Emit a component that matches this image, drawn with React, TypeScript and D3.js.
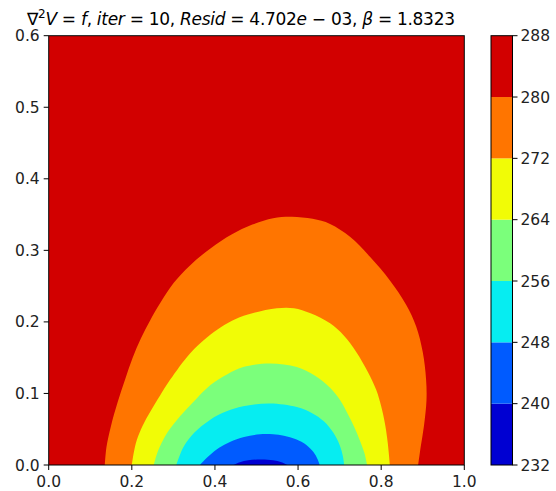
import React from "react";
import * as d3 from "d3";

// Contour levels (colorbar boundaries)
const levels = [232, 240, 248, 256, 264, 272, 280, 288];
// Band fill colours (jet colormap at band midpoints), lowest band first
const bandColors = ["#0000d2", "#005bff", "#06edf1", "#7bff7b", "#f1fc06", "#ff7500", "#d20000"];

// Contour boundaries: [x, y] pairs (lower edge of each band)
const contour280: [number, number][] = [
  [0.135, 0], [0.139, 0.025], [0.15, 0.055], [0.166, 0.088], [0.184, 0.12],
  [0.202, 0.15], [0.222, 0.177], [0.244, 0.202], [0.268, 0.226], [0.3, 0.254],
  [0.34, 0.279], [0.39, 0.303], [0.44, 0.322], [0.49, 0.336], [0.54, 0.345],
  [0.585, 0.347], [0.635, 0.344], [0.677, 0.337], [0.725, 0.319], [0.773, 0.291],
  [0.821, 0.258], [0.86, 0.224], [0.884, 0.194], [0.9, 0.158], [0.908, 0.12],
  [0.909, 0.09], [0.903, 0.055], [0.895, 0.025], [0.889, 0]
];
const contour272: [number, number][] = [
  [0.2, 0], [0.205, 0.018], [0.212, 0.035], [0.226, 0.055], [0.244, 0.074],
  [0.268, 0.097], [0.292, 0.119], [0.34, 0.156], [0.38, 0.178], [0.415, 0.193],
  [0.45, 0.204], [0.49, 0.212], [0.549, 0.219], [0.59, 0.219], [0.63, 0.212],
  [0.677, 0.198], [0.71, 0.181], [0.74, 0.158], [0.768, 0.13], [0.788, 0.105],
  [0.8, 0.082], [0.81, 0.055], [0.816, 0.03], [0.821, 0]
];
const contour264: [number, number][] = [
  [0.253, 0], [0.262, 0.018], [0.284, 0.044], [0.31, 0.064], [0.34, 0.083],
  [0.39, 0.112], [0.43, 0.127], [0.468, 0.137], [0.532, 0.142], [0.597, 0.137],
  [0.64, 0.125], [0.677, 0.108], [0.701, 0.091], [0.72, 0.071], [0.736, 0.052],
  [0.749, 0.034], [0.76, 0.016], [0.766, 0]
];
const contour256: [number, number][] = [
  [0.307, 0], [0.315, 0.013], [0.326, 0.027], [0.35, 0.045], [0.388, 0.063],
  [0.428, 0.075], [0.468, 0.082], [0.532, 0.086], [0.597, 0.081], [0.635, 0.072],
  [0.662, 0.061], [0.685, 0.045], [0.7, 0.028], [0.708, 0.012], [0.711, 0]
];
const contour248: [number, number][] = [
  [0.364, 0], [0.375, 0.007], [0.388, 0.014], [0.41, 0.024], [0.436, 0.032],
  [0.47, 0.039], [0.508, 0.043], [0.54, 0.043], [0.566, 0.041], [0.595, 0.036],
  [0.62, 0.028], [0.637, 0.018], [0.647, 0.008], [0.652, 0]
];
const contour240: [number, number][] = [
  [0.444, 0], [0.46, 0.004], [0.48, 0.0065], [0.51, 0.0078], [0.54, 0.0068],
  [0.56, 0.004], [0.575, 0]
];
// Outer to inner; each region is filled with the band colour below its level
const contours = [contour280, contour272, contour264, contour256, contour248, contour240];

const xTicks = [0.0, 0.2, 0.4, 0.6, 0.8, 1.0];
const yTicks = [0.0, 0.1, 0.2, 0.3, 0.4, 0.5, 0.6];

export default function App() {
  const W = 556, H = 491;
  const px0 = 48.7, px1 = 464.3, py0 = 35.7, py1 = 465;
  const cbx0 = 491, cbx1 = 512.5;
  const x = d3.scaleLinear().domain([0, 1]).range([px0, px1]);
  const y = d3.scaleLinear().domain([0, 0.6]).range([py1, py0]);
  const cy = d3.scaleLinear().domain([232, 288]).range([py1, py0]);
  const line = d3
    .line<[number, number]>()
    .x((d) => x(d[0]))
    .y((d) => y(d[1]))
    .curve(d3.curveCatmullRom.alpha(0.5));
  const font = "DejaVu Sans";
  const tickFs = 15.5;
  const axisColor = "#000";

  return (
    <svg width={W} height={H} style={{ position: "absolute", left: 0, top: 0 }} fontFamily={font}>
      <defs>
        <clipPath id="plotclip">
          <rect x={px0} y={py0} width={px1 - px0} height={py1 - py0} />
        </clipPath>
      </defs>
      <rect x={0} y={0} width={W} height={H} fill="#fff" />
      <g clipPath="url(#plotclip)">
        <rect x={px0} y={py0} width={px1 - px0} height={py1 - py0} fill={bandColors[6]} />
        {contours.map((c, i) => (
          <path key={i} d={(line(c) || "") + "Z"} fill={bandColors[5 - i]} />
        ))}
      </g>
      <rect x={px0} y={py0} width={px1 - px0} height={py1 - py0} fill="none" stroke={axisColor} strokeWidth={1} />
      {/* x axis */}
      {xTicks.map((t) => (
        <g key={"x" + t}>
          <line x1={x(t)} x2={x(t)} y1={py1} y2={py1 + 5} stroke={axisColor} strokeWidth={1} />
          <text x={x(t)} y={py1 + 22} textAnchor="middle" fontSize={tickFs} fill="#222">
            {t.toFixed(1)}
          </text>
        </g>
      ))}
      {/* y axis */}
      {yTicks.map((t) => (
        <g key={"y" + t}>
          <line x1={px0 - 5} x2={px0} y1={y(t)} y2={y(t)} stroke={axisColor} strokeWidth={1} />
          <text x={px0 - 9} y={y(t) + 5.5} textAnchor="end" fontSize={tickFs} fill="#222">
            {t.toFixed(1)}
          </text>
        </g>
      ))}
      {/* colorbar */}
      {bandColors.map((c, i) => (
        <rect key={"cb" + i} x={cbx0} y={cy(levels[i + 1])} width={cbx1 - cbx0}
          height={cy(levels[i]) - cy(levels[i + 1])} fill={c} />
      ))}
      <rect x={cbx0} y={py0} width={cbx1 - cbx0} height={py1 - py0} fill="none" stroke={axisColor} strokeWidth={1} />
      {levels.map((l) => (
        <g key={"c" + l}>
          <line x1={cbx1} x2={cbx1 + 5} y1={cy(l)} y2={cy(l)} stroke={axisColor} strokeWidth={1} />
          <text x={cbx1 + 8} y={cy(l) + 5.5} fontSize={tickFs} fill="#222">{l}</text>
        </g>
      ))}
      {/* title */}
      <text x={27} y={24.5} textAnchor="start" fontSize={17} fill="#000"
        textLength={428} lengthAdjust="spacing">
        <tspan>∇</tspan>
        <tspan dy={-6.5} fontSize={12}>2</tspan>
        <tspan dy={6.5} fontStyle="italic">V</tspan>
        <tspan> = </tspan>
        <tspan fontStyle="italic">f</tspan>
        <tspan>, </tspan>
        <tspan fontStyle="italic">iter</tspan>
        <tspan> = 10, </tspan>
        <tspan fontStyle="italic">Resid</tspan>
        <tspan> = 4.702</tspan>
        <tspan fontStyle="italic">e</tspan>
        <tspan> − 03, </tspan>
        <tspan fontStyle="italic">β</tspan>
        <tspan> = 1.8323</tspan>
      </text>
    </svg>
  );
}
